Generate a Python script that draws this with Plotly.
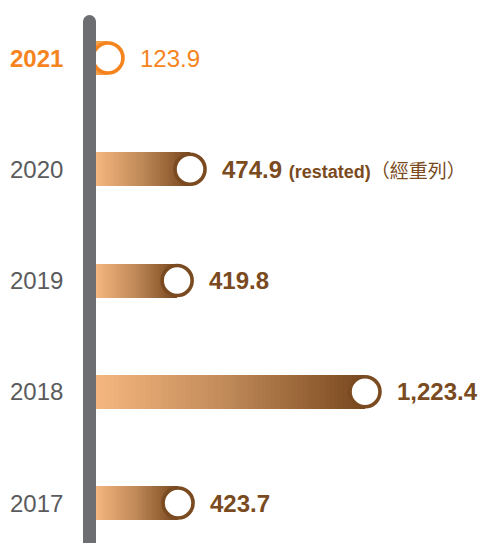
import plotly.graph_objects as go

# ---- data ----
years = ["2017", "2018", "2019", "2020", "2021"]
values = [423.7, 1223.4, 419.8, 474.9, 123.9]
value_labels = ["423.7", "1,223.4", "419.8", "474.9", "123.9"]
highlight_year = "2021"

# ---- style / layout constants ----
W, H = 485, 543
X0_PX = 96                      # pixel of value 0
K = 286 / 1223.4                # px per unit
CAP_PX = 17                     # radius of end circle (px)
BAR_W = 34 / 111.25             # bar thickness in category units
BROWN = "#7A4A20"
ORANGE = "#F5841F"
ORANGE_BAR = "#F6A04C"
GRAY_TXT = "#5A5B5D"
GRAY_BAR = "#6D6E71"
N_SEG = 60
stops = [(0.0, (246, 183, 128)), (0.5, (190, 136, 87)), (1.0, (120, 71, 30))]


def grad(t):
    for (t0, c0), (t1, c1) in zip(stops[:-1], stops[1:]):
        if t <= t1:
            f = (t - t0) / (t1 - t0)
            return "rgb(%d,%d,%d)" % tuple(round(a + (b - a) * f) for a, b in zip(c0, c1))
    return "rgb(%d,%d,%d)" % stops[-1][1]


cap = CAP_PX / K
fig = go.Figure()

for i in range(N_SEG):
    t = (i + 0.5) / N_SEG
    cols = [ORANGE_BAR if y == highlight_year else grad(t) for y in years]
    fig.add_trace(go.Bar(
        y=years, x=[max(v - cap, 0) / N_SEG for v in values], orientation="h",
        width=BAR_W, marker=dict(color=cols, line=dict(width=0)),
        showlegend=False, hoverinfo="skip"))

# end circles
fig.add_trace(go.Scatter(
    y=years, x=[v - cap for v in values], mode="markers",
    marker=dict(size=30, color="white",
                line=dict(width=3.6, color=[ORANGE if y == highlight_year else BROWN for y in years])),
    showlegend=False, hoverinfo="skip"))

shapes = [
    dict(type="rect", xref="paper", yref="paper", x0=83 / W, x1=96 / W, y0=0, y1=(H - 21.5) / H,
         fillcolor=GRAY_BAR, line=dict(width=0), layer="above"),
    dict(type="circle", xref="paper", yref="paper", xsizemode="pixel", ysizemode="pixel",
         xanchor=89.5 / W, yanchor=(H - 21.5) / H, x0=-6.5, x1=6.5, y0=-6.5, y1=6.5,
         fillcolor=GRAY_BAR, line=dict(width=0), layer="above"),
]

annotations = []
FONT = "Liberation Sans, Arial, Noto Sans CJK TC"
for idx, (y, v, lab) in enumerate(zip(years, values, value_labels)):
    hl = y == highlight_year
    annotations.append(dict(
        x=65 / W, xref="paper", y=idx, yref="y", xanchor="right", yanchor="middle",
        text=f"<b>{y}</b>" if hl else y, showarrow=False,
        font=dict(family=FONT, size=24, color=ORANGE if hl else GRAY_TXT)))
    if hl:
        txt = lab
        col = ORANGE
    elif y == "2020":
        txt = (f"<b>{lab}</b> <b><span style='font-size:18px'>(restated)</span></b>"
               "<span style='font-size:19px'>（經重列）</span>")
        col = BROWN
    else:
        txt = f"<b>{lab}</b>"
        col = BROWN
    annotations.append(dict(
        x=v, xref="x", y=idx, yref="y", xanchor="left", yanchor="middle", xshift=13,
        text=txt, showarrow=False, font=dict(family=FONT, size=24, color=col)))

fig.update_layout(
    width=W, height=H, margin=dict(l=0, r=0, t=0, b=0),
    paper_bgcolor="white", plot_bgcolor="white",
    barmode="stack", bargap=0,
    xaxis=dict(range=[-X0_PX / K, (W - X0_PX) / K], visible=False, fixedrange=True),
    yaxis=dict(type="category", categoryorder="array", categoryarray=years,
               range=[-40 / 111.25, 503 / 111.25], visible=False, fixedrange=True),
    shapes=shapes, annotations=annotations, showlegend=False,
)

fig.write_html("out.html", config={"displayModeBar": False},
               post_script="document.body.style.margin='0';")
